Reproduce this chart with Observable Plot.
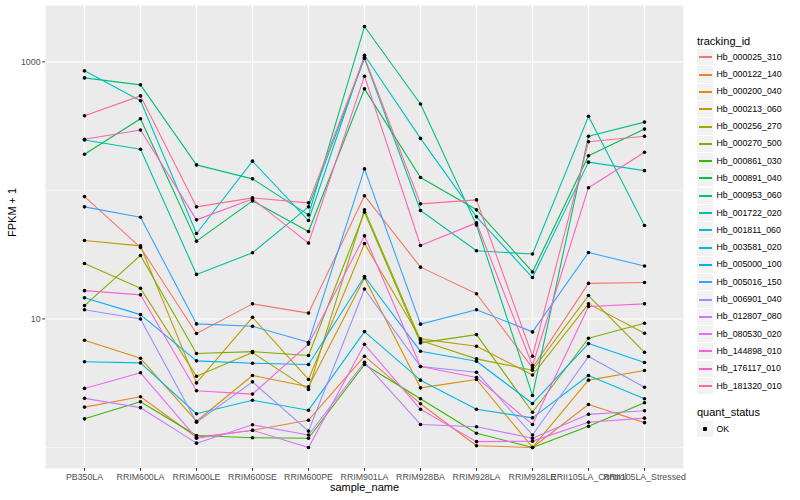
<!DOCTYPE html>
<html><head><meta charset="utf-8">
<script src="https://cdn.jsdelivr.net/npm/d3@7"></script>
<script src="https://cdn.jsdelivr.net/npm/@observablehq/plot@0.6"></script>
<style>
body{margin:0;background:#fff;}
#wrap{position:relative;width:800px;height:500px;font-family:"Liberation Sans",Arial,Helvetica,sans-serif;background:#fff;}
.lg{position:absolute;white-space:nowrap;color:#000;}
</style></head><body><div id="wrap"></div>
<script>
const samples = ["PB350LA","RRIM600LA","RRIM600LE","RRIM600SE","RRIM600PE","RRIM901LA","RRIM928BA","RRIM928LA","RRIM928LE","RRII105LA_Control","RRII105LA_Stressed"];
const trackingIds = ["Hb_000025_310","Hb_000122_140","Hb_000200_040","Hb_000213_060","Hb_000256_270","Hb_000270_500","Hb_000861_030","Hb_000891_040","Hb_000953_060","Hb_001722_020","Hb_001811_060","Hb_003581_020","Hb_005000_100","Hb_005016_150","Hb_006901_040","Hb_012807_080","Hb_080530_020","Hb_144898_010","Hb_176117_010","Hb_181320_010"];
const quantStatus = ["OK"];
// FPKM + 1, one row per tracking_id, one column per sample_name
const fpkmPlus1 = [
  [89.5, 36, 7.7, 13.1, 11.1, 91, 25.3, 15.7, 4.16, 18.9, 19.2],
  [2.06, 2.48, 1.20, 1.36, 1.63, 5.13, 2.19, 1.03, 1.0, 2.16, 1.56],
  [6.82, 4.94, 1.60, 3.63, 2.97, 20.8, 2.91, 3.38, 1.0, 3.34, 3.97],
  [40.8, 37, 3.18, 10.3, 3.38, 38.6, 7.0, 6.13, 3.66, 13.1, 7.73],
  [27.0, 17.3, 3.58, 5.47, 2.83, 70.6, 6.79, 4.89, 3.99, 15.2, 5.50],
  [12.7, 31.2, 5.38, 5.57, 5.19, 67.7, 6.51, 7.55, 1.88, 7.07, 9.25],
  [1.67, 2.27, 1.24, 1.19, 1.18, 4.42, 2.39, 1.29, 1.0, 1.46, 2.23],
  [191, 361, 40.3, 82.9, 47.9, 617, 126, 70.6, 23.2, 186, 300],
  [751, 663, 158, 123, 64.5, 1884, 470, 53.7, 2.54, 264, 340],
  [247, 209, 22.2, 32.7, 74.5, 1062, 69.7, 33.9, 32.0, 377, 53.3],
  [852, 498, 46.2, 169, 58.3, 1127, 254, 62.3, 21.0, 166, 142.5],
  [4.64, 4.55, 1.83, 2.33, 1.95, 7.97, 3.34, 1.98, 1.70, 3.63, 2.39],
  [14.6, 10.8, 4.72, 4.52, 4.42, 21.4, 5.60, 4.69, 2.20, 6.43, 4.58],
  [74.5, 61.9, 9.15, 8.76, 6.58, 147, 9.11, 11.8, 7.93, 32.9, 25.8],
  [11.8, 10.0, 1.57, 3.24, 1.34, 17.1, 4.26, 3.85, 1.25, 5.10, 2.94],
  [2.41, 2.04, 1.08, 1.50, 1.25, 4.60, 1.51, 1.45, 1.18, 1.81, 1.93],
  [2.88, 3.81, 1.18, 1.36, 1.0, 6.35, 1.98, 1.11, 1.12, 1.57, 1.69],
  [16.6, 15.4, 2.76, 2.60, 6.37, 44.3, 4.26, 3.50, 1.51, 12.5, 13.1],
  [250, 295, 59.0, 85.9, 38.9, 774, 37.3, 55.9, 4.34, 105, 198],
  [381, 544, 74.5, 87.5, 80.0, 1088, 78.6, 84.4, 5.13, 239, 264]
];
const yTicks = [10, 1000];
const yMinorGrid = [1, 100];

const palette = ["#F8766D","#EA8331","#D89000","#C09B00","#A3A500","#7CAE00","#39B600","#00BB4E","#00BF7D","#00C1A3","#00BFC4","#00BAE0","#00B0F6","#35A2FF","#9590FF","#C77CFF","#E76BF3","#FA62DB","#FF62BC","#FF6A98"];

const rows = [];
trackingIds.forEach((id, i) => samples.forEach((s, j) => rows.push({id, sample: s, value: fpkmPlus1[i][j], status: quantStatus[0]})));

const ext = d3.extent(rows, d => Math.log10(d.value));
const pad = (ext[1] - ext[0]) * 0.05;

const font = '"Liberation Sans", Arial, Helvetica, sans-serif';
const plot = Plot.plot({
  width: 800, height: 500,
  marginLeft: 45, marginRight: 117, marginTop: 5, marginBottom: 32,
  style: {background: "white", fontFamily: font},
  x: {type: "point", domain: samples, padding: 0.6, label: null},
  y: {type: "log", domain: [Math.pow(10, ext[0] - pad), Math.pow(10, ext[1] + pad)], label: null},
  color: {domain: trackingIds, range: palette},
  marks: [
    Plot.frame({fill: "#EBEBEB", stroke: null}),
    Plot.ruleY(yMinorGrid, {stroke: "white", strokeWidth: 0.55}),
    Plot.ruleY(yTicks, {stroke: "white", strokeWidth: 1.1}),
    Plot.ruleX(samples, {stroke: "white", strokeWidth: 1.1}),
    Plot.line(rows, {x: "sample", y: "value", z: "id", stroke: "id", strokeWidth: 1.1}),
    Plot.dot(rows, {x: "sample", y: "value", fill: "black", stroke: null, r: 1.8}),
    Plot.axisX({label: null, tickSize: 2.75, tickPadding: 2.3, fontSize: 8.8, stroke: "#333333", fill: "#4D4D4D"}),
    Plot.axisY({ticks: yTicks, tickFormat: d => String(d), label: null, tickSize: 2.75, tickPadding: 2.2, fontSize: 8.8, stroke: "#333333", fill: "#4D4D4D"}),
    Plot.text(["sample_name"], {frameAnchor: "bottom", dy: 22, fontSize: 11, fill: "black"}),
    Plot.text(["FPKM + 1"], {frameAnchor: "left", dx: -33, rotate: -90, fontSize: 11, fill: "black"})
  ]
});

const wrap = document.getElementById("wrap");
plot.style.position = "absolute"; plot.style.left = "0"; plot.style.top = "0";
wrap.appendChild(plot);
function add(text, style) {
  const d = document.createElement("div");
  d.className = "lg";
  Object.assign(d.style, style);
  d.textContent = text;
  wrap.appendChild(d);
  return d;
}
add("tracking_id", {left: "697px", top: "33.5px", fontSize: "11px", lineHeight: "14px"});
trackingIds.forEach((id, i) => {
  const cy = 57.3 + i * 17.3;
  add("", {left: "697px", top: (cy - 8.2) + "px", width: "16.3px", height: "16.3px", background: "#F2F2F2"});
  add("", {left: "699px", top: Math.round(cy - 1) + "px", width: "13px", height: "1.6px", background: palette[i]});
  add(id, {left: "716.5px", top: (cy - 5.5) + "px", fontSize: "8.8px", lineHeight: "11px"});
});
add("quant_status", {left: "697px", top: "405.3px", fontSize: "11px", lineHeight: "14px"});
quantStatus.forEach((q, i) => {
  const cy = 429 + i * 17.3;
  add("", {left: "697px", top: (cy - 8.2) + "px", width: "16.3px", height: "16.3px", background: "#F2F2F2"});
  add("", {left: "703px", top: Math.round(cy - 2) + "px", width: "4px", height: "4px", background: "black", borderRadius: "1px"});
  add(q, {left: "716.5px", top: (cy - 5.5) + "px", fontSize: "8.8px", lineHeight: "11px"});
});
</script></body></html>
